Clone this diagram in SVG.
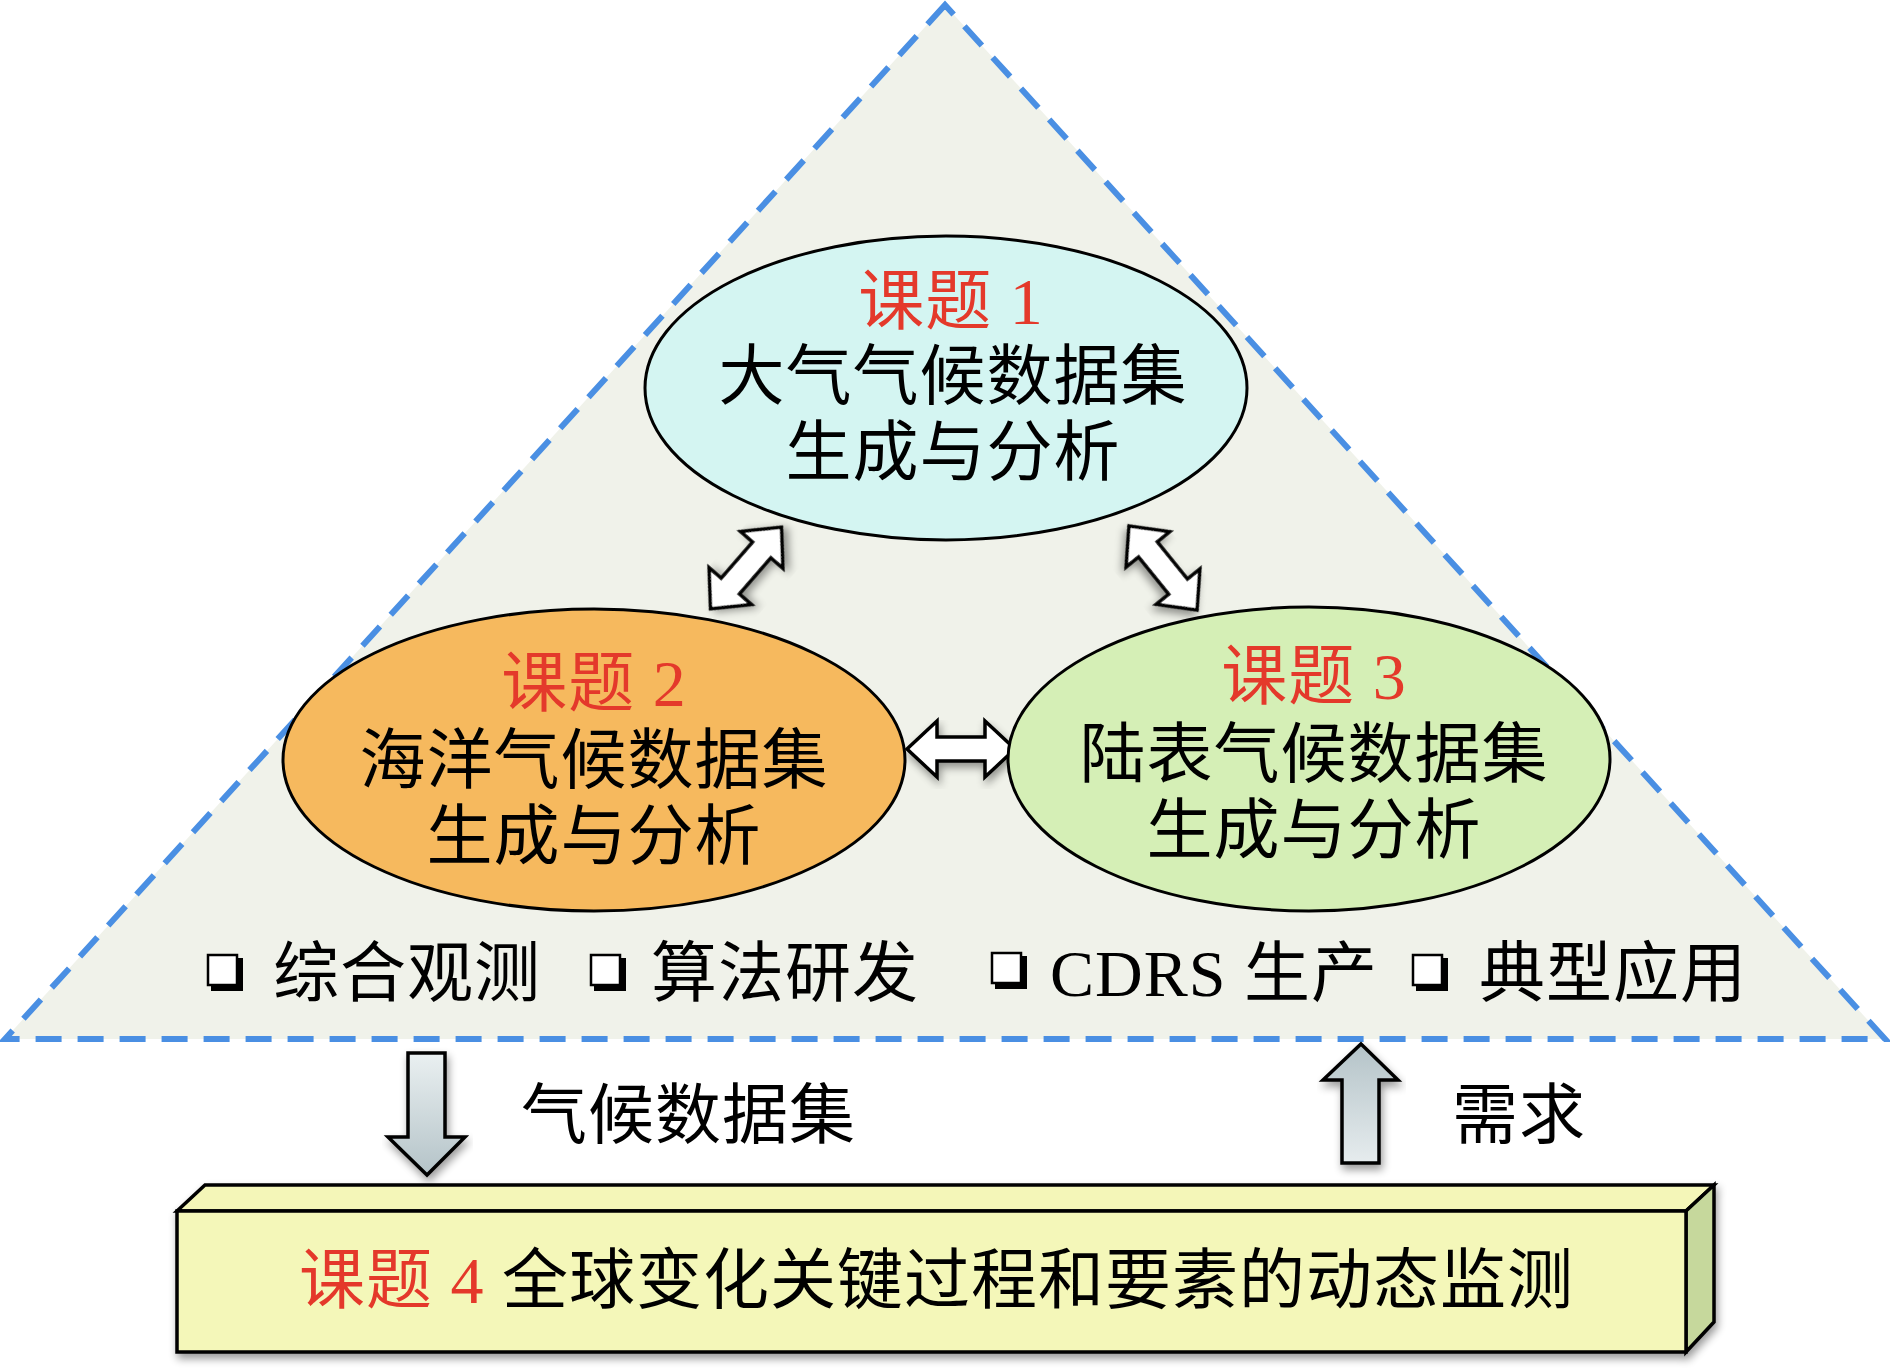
<svg xmlns="http://www.w3.org/2000/svg" width="1890" height="1369" viewBox="0 0 1890 1369">
<defs>
<style>
.t{font-family:"Liberation Serif","Noto Sans CJK SC",serif;font-size:66px;letter-spacing:1px;fill:#000;text-anchor:middle}
.ts{font-family:"Liberation Serif","Noto Sans CJK SC",serif;font-size:66px;letter-spacing:1px;fill:#000}
.red{fill:#e4392b}
.ell{stroke:#000;stroke-width:3}
.dbl{fill:#fff;stroke:#000;stroke-width:3.5;stroke-linejoin:miter}
.blk{stroke:#000;stroke-width:3.5;stroke-linejoin:miter}
</style>
<linearGradient id="gDown" x1="0" y1="0" x2="0" y2="1">
<stop offset="0" stop-color="#eaf0f1"/>
<stop offset="1" stop-color="#b4c3c8"/>
</linearGradient>
<linearGradient id="gUp" x1="0" y1="0" x2="0" y2="1">
<stop offset="0" stop-color="#b4c3c8"/>
<stop offset="1" stop-color="#e6ecee"/>
</linearGradient>
<filter id="sh" x="-10%" y="-10%" width="120%" height="130%">
<feGaussianBlur in="SourceAlpha" stdDeviation="4"/>
<feOffset dx="2" dy="5" result="b"/>
<feComponentTransfer><feFuncA type="linear" slope="0.4"/></feComponentTransfer>
<feMerge><feMergeNode/><feMergeNode in="SourceGraphic"/></feMerge>
</filter>
<path id="dblArrow" d="M -54 0 L -24 -28 L -24 -12 L 24 -12 L 24 -28 L 54 0 L 24 28 L 24 12 L -24 12 L -24 28 Z"/>
<g id="bullet">
<path d="M 3 3 L 35 3 L 35 36 L 3 36 Z" fill="#000"/>
<rect x="0" y="0" width="29" height="30" fill="#fff" stroke="#000" stroke-width="2.5"/>
</g>
</defs>

<rect x="0" y="0" width="1890" height="1369" fill="#fff"/>

<g id="triangle">
<polygon points="945,5 5,1039 1885,1039" fill="#f0f2ea" stroke="#4a8fe3" stroke-width="6" stroke-dasharray="26 16" stroke-linejoin="miter"/>
</g>

<g id="connectors">
<use href="#dblArrow" class="dbl" transform="translate(746,568) rotate(-49)" filter="url(#sh)"/>
<use href="#dblArrow" class="dbl" transform="translate(1163,568) rotate(51)" filter="url(#sh)"/>
<use href="#dblArrow" class="dbl" transform="translate(961,749)" filter="url(#sh)"/>
<path class="blk" fill="url(#gDown)" filter="url(#sh)" d="M 408 1053 L 445 1053 L 445 1137 L 465 1137 L 427 1175 L 388 1137 L 408 1137 Z"/>
<path class="blk" fill="url(#gUp)" filter="url(#sh)" d="M 1361 1044 L 1398 1080 L 1379 1080 L 1379 1163 L 1342 1163 L 1342 1080 L 1323 1080 Z"/>
</g>

<g id="node1">
<ellipse class="ell" cx="946" cy="388" rx="301" ry="152" fill="#d4f5f2"/>
<text class="t" x="951" y="324"><tspan class="red">课题 1</tspan></text>
<text class="t" x="953" y="399">大气气候数据集</text>
<text class="t" x="953" y="475">生成与分析</text>
</g>

<g id="node2">
<ellipse class="ell" cx="594" cy="760" rx="311" ry="151" fill="#f6b95e"/>
<text class="t" x="594" y="706"><tspan class="red">课题 2</tspan></text>
<text class="t" x="594" y="783">海洋气候数据集</text>
<text class="t" x="594" y="859">生成与分析</text>
</g>

<g id="node3">
<ellipse class="ell" cx="1309" cy="759" rx="301" ry="152" fill="#d5efb6"/>
<text class="t" x="1314" y="699"><tspan class="red">课题 3</tspan></text>
<text class="t" x="1314" y="777">陆表气候数据集</text>
<text class="t" x="1314" y="853">生成与分析</text>
</g>

<g id="bullets">
<use href="#bullet" x="208" y="955"/>
<text class="ts" x="273" y="996">综合观测</text>
<use href="#bullet" x="591" y="955"/>
<text class="ts" x="651" y="996">算法研发</text>
<use href="#bullet" x="992" y="953"/>
<text class="ts" x="1050" y="996">CDRS 生产</text>
<use href="#bullet" x="1413" y="955"/>
<text class="ts" x="1479" y="996">典型应用</text>
</g>

<g id="labels">
<text class="ts" x="521" y="1138">气候数据集</text>
<text class="ts" x="1452" y="1138">需求</text>
</g>

<g id="node4" filter="url(#sh)">
<polygon class="blk" points="177,1211 205,1185 1714,1185 1686,1211" fill="#f4f6b8"/>
<polygon class="blk" points="1686,1211 1714,1185 1714,1322 1686,1352" fill="#c6d89c"/>
<rect class="blk" x="177" y="1211" width="1509" height="141" fill="#f4f7b9"/>
<text class="ts" x="299" y="1303"><tspan class="red">课题 4</tspan> 全球变化关键过程和要素的动态监测</text>
</g>
</svg>
